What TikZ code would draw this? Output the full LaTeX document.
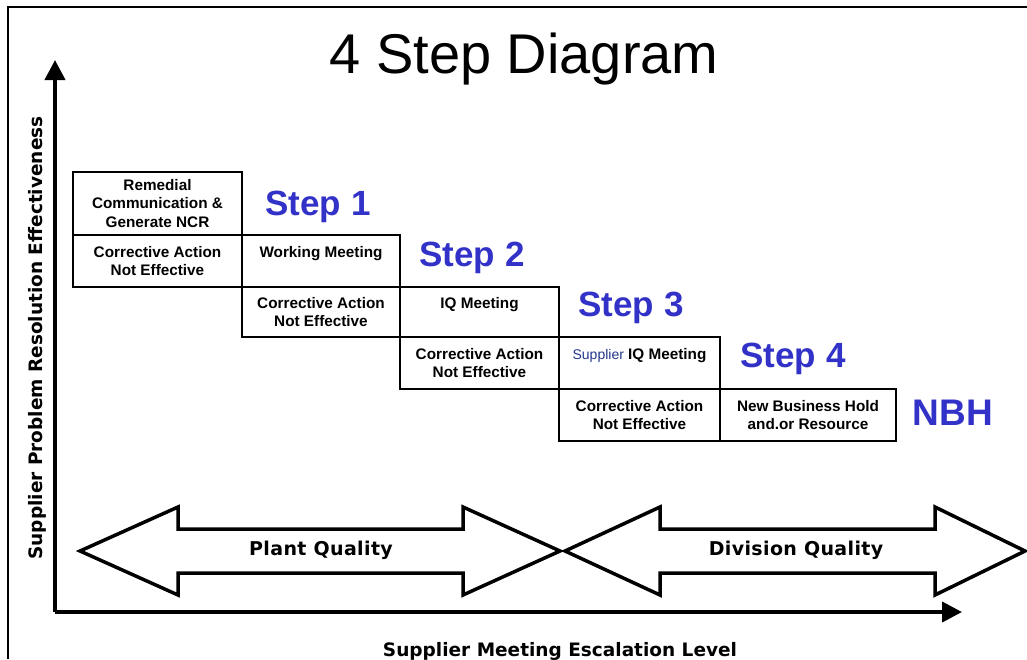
\documentclass[tikz,border=0pt]{standalone}
\usepackage{fontspec}
\setmainfont{Liberation Sans}
\newfontfamily\axisfont{DejaVu Sans}
\newfontfamily\bandfont[LetterSpace=2]{DejaVu Sans}
\usetikzlibrary{arrows.meta}
\definecolor{stepblue}{RGB}{50,50,200}
\definecolor{supblue}{RGB}{35,55,140}
\tikzset{
  cell/.style={draw, line width=2.2pt, anchor=north west, outer sep=0pt, inner sep=0pt,
    align=center, font=\bfseries\fontsize{15.3}{18.5}\selectfont},
  steplbl/.style={anchor=base, text=stepblue, font=\bfseries\fontsize{35}{40}\selectfont},
  band/.style={draw, line width=3.5pt, line join=miter, fill=white},
  bandlbl/.style={font=\bandfont\bfseries\fontsize{19}{21}\selectfont},
  axis/.style={line width=4pt, -{Triangle[length=20pt,width=20pt]}},
  frame/.style={line width=2pt}
}
\begin{document}
\begin{tikzpicture}[x=1pt,y=-1pt]
\useasboundingbox (0,0) rectangle (1027,659);
\fill[white] (0,0) rectangle (1027,659);
% frame
\coordinate (fTL) at (8,7);
\coordinate (fTR) at (1027,7);
\coordinate (fBL) at (8,659);
\draw[frame] (fTR) -- (fTL) -- (fBL);
% title
\node[anchor=base, font=\fontsize{56}{60}\selectfont] (title) at (524,73) {4 Step Diagram};
% axes
\coordinate (origin) at (55,612);
\coordinate (ytip) at (55,60);
\coordinate (xtip) at (962,612);
\draw[axis] (origin) -- (ytip);
\draw[axis] (origin) -- (xtip);
\node[rotate=90, font=\axisfont\bfseries\fontsize{18.5}{22}\selectfont] (ylab) at (37,338) {Supplier Problem Resolution Effectiveness};
\node[anchor=base, font=\axisfont\bfseries\fontsize{18.5}{22}\selectfont] (xlab) at (560,656) {Supplier Meeting Escalation Level};
% cells
\node[cell, minimum width=169pt, minimum height=63pt] (c1a) at (73,172) {Remedial\\Communication \&\\Generate NCR};
\node[cell, minimum width=169pt, minimum height=52pt] (c1b) at (73,235) {Corrective Action\\Not Effective};
\node[cell, minimum width=158pt, minimum height=52pt] (c2a) at (242,235) {Working Meeting\\\phantom{X}};
\node[cell, minimum width=158pt, minimum height=50pt] (c2b) at (242,287) {Corrective Action\\Not Effective};
\node[cell, minimum width=159pt, minimum height=50pt] (c3a) at (400,287) {IQ Meeting\\\phantom{X}};
\node[cell, minimum width=159pt, minimum height=52pt] (c3b) at (400,337) {Corrective Action\\Not Effective};
\node[cell, minimum width=161pt, minimum height=52pt] (c4a) at (559,337) {{\mdseries\fontsize{14}{16}\selectfont\color{supblue}Supplier} IQ Meeting\\\phantom{X}};
\node[cell, minimum width=161pt, minimum height=52pt] (c4b) at (559,389) {Corrective Action\\Not Effective};
\node[cell, minimum width=176pt, minimum height=52pt] (c5) at (720,389) {New Business Hold\\and.or Resource};
% step labels
\node[steplbl] (s1) at (318,215) {Step 1};
\node[steplbl] (s2) at (472,266) {Step 2};
\node[steplbl] (s3) at (631,316) {Step 3};
\node[steplbl] (s4) at (793,367) {Step 4};
\node[steplbl, font=\bfseries\fontsize{37}{40}\selectfont] (nbh) at (953,425) {NBH};
% bands
\draw[band] (80,551) -- (178,507) -- (178,529) -- (463,529) -- (463,507) -- (560,551)
  -- (463,595) -- (463,573) -- (178,573) -- (178,595) -- cycle;
\draw[band] (565,551) -- (660,507) -- (660,529) -- (935,529) -- (935,507) -- (1025,551)
  -- (935,595) -- (935,573) -- (660,573) -- (660,595) -- cycle;
\node[bandlbl] (plant) at (321,550) {Plant Quality};
\node[bandlbl] (division) at (796,550) {Division Quality};
\end{tikzpicture}
\end{document}
